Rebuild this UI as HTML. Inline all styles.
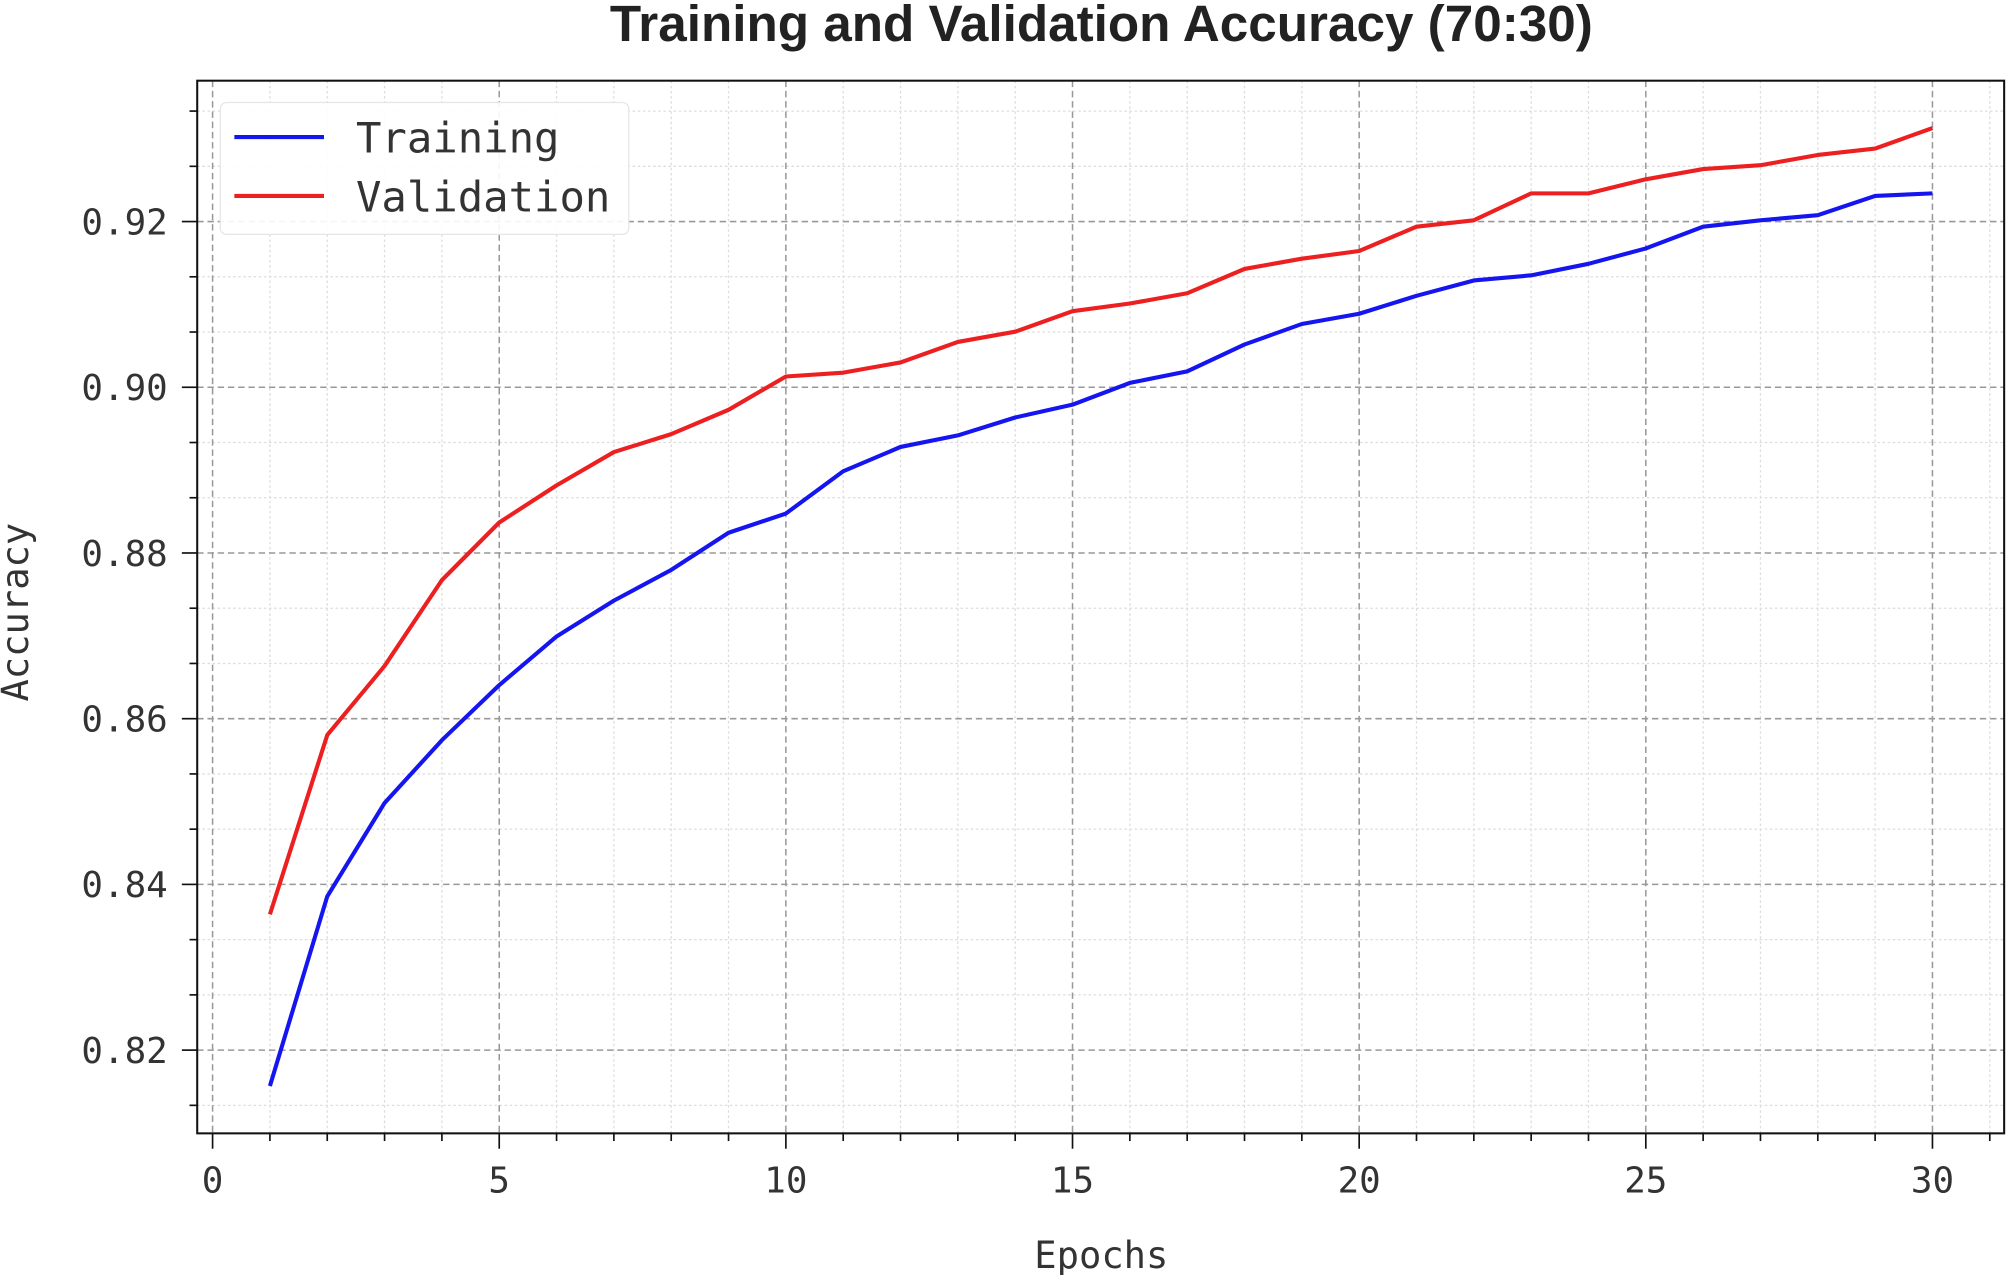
<!DOCTYPE html>
<html><head><meta charset="utf-8"><style>html,body{margin:0;padding:0;background:#fff}svg{display:block}</style></head>
<body>
<svg id="s" xmlns="http://www.w3.org/2000/svg" width="2008" height="1275" viewBox="0 0 1568 995.6">
<rect width="1568" height="996" fill="#fff"/>
<g id="grid"></g>
<g id="lines"></g>
<rect x="154" y="63" width="1411" height="822" fill="none" stroke="#111" stroke-width="1.6"/>
<g id="ticks"></g>
<text x="860" y="32" text-anchor="middle" font-family="Liberation Sans, sans-serif" font-weight="bold" font-size="40" fill="#222">Training and Validation Accuracy (70:30)</text>
<text x="860" y="990" text-anchor="middle" font-family="DejaVu Sans Mono, Liberation Mono, monospace" font-size="29" fill="#333">Epochs</text>
<text transform="translate(22,478) rotate(-90)" text-anchor="middle" font-family="DejaVu Sans Mono, Liberation Mono, monospace" font-size="29" fill="#333">Accuracy</text>
<rect x="172" y="80" width="319" height="103" rx="5" fill="#fff" fill-opacity="0.9" stroke="#e6e6e6"/>
<line x1="183" y1="107" x2="253" y2="107" stroke="#1515f0" stroke-width="3.2"/>
<line x1="183" y1="153" x2="253" y2="153" stroke="#ec2020" stroke-width="3.2"/>
<text x="278" y="119" font-family="DejaVu Sans Mono, Liberation Mono, monospace" font-size="33" fill="#333">Training</text>
<text x="278" y="165" font-family="DejaVu Sans Mono, Liberation Mono, monospace" font-size="33" fill="#333">Validation</text>
</svg>
<script>
const NS="http://www.w3.org/2000/svg";
function el(p,t,a,txt){const e=document.createElementNS(NS,t);for(const k in a)e.setAttribute(k,a[k]);if(txt!==undefined)e.textContent=txt;document.getElementById(p).appendChild(e);return e;}
const X=i=>166+44.767*i, Y=v=>173+(0.92-v)*6470;
for(let i=0;i<=31;i++){const x=X(i);if(x>1565)break;
 if(i%5)el('grid','line',{x1:x,y1:63,x2:x,y2:885,stroke:'#ddd','stroke-width':1,'stroke-dasharray':'2,2'});
 el('ticks','line',{x1:x,y1:885,x2:x,y2:i%5?891:897,stroke:'#111','stroke-width':1.3});}
for(let k=-30;k<=30;k++){const v=0.82+k*0.02/3;const y=Y(v);if(y<63||y>885)continue;
 const major=(k%3===0);
 if(!major)el('grid','line',{x1:154,y1:y,x2:1565,y2:y,stroke:'#ddd','stroke-width':1,'stroke-dasharray':'2,2'});
 el('ticks','line',{x1:154,y1:y,x2:major?142:148,y2:y,stroke:'#111','stroke-width':1.3});}
for(let i=0;i<=30;i+=5){const x=X(i);
 el('grid','line',{x1:x,y1:63,x2:x,y2:885,stroke:'#999','stroke-width':1.2,'stroke-dasharray':'5,3'});
 el('ticks','text',{x:x,y:931,'text-anchor':'middle','font-family':'DejaVu Sans Mono, Liberation Mono, monospace','font-size':28,fill:'#333'},String(i));}
for(const v of [0.82,0.84,0.86,0.88,0.90,0.92]){const y=Y(v);
 el('grid','line',{x1:154,y1:y,x2:1565,y2:y,stroke:'#999','stroke-width':1.2,'stroke-dasharray':'5,3'});
 el('ticks','text',{x:131,y:y+10,'text-anchor':'end','font-family':'DejaVu Sans Mono, Liberation Mono, monospace','font-size':28,fill:'#333'},v.toFixed(2));}
const tr=[848,700,627,578,535,497,469,445,416,401,368,349,340,326,316,299,290,269,253,245,231,219,215,206,194,177,172,168,153,151];
const va=[714,574,520,453,408,379,353,339,320,294,291,283,267,259,243,237,229,210,202,196,177,172,151,151,140,132,129,121,116,100];
el('lines','polyline',{points:tr.map((y,i)=>X(i+1)+','+y).join(' '),fill:'none',stroke:'#1515f0','stroke-width':3.2,'stroke-linejoin':'round'});
el('lines','polyline',{points:va.map((y,i)=>X(i+1)+','+y).join(' '),fill:'none',stroke:'#ec2020','stroke-width':3.2,'stroke-linejoin':'round'});
</script>
</body></html>
